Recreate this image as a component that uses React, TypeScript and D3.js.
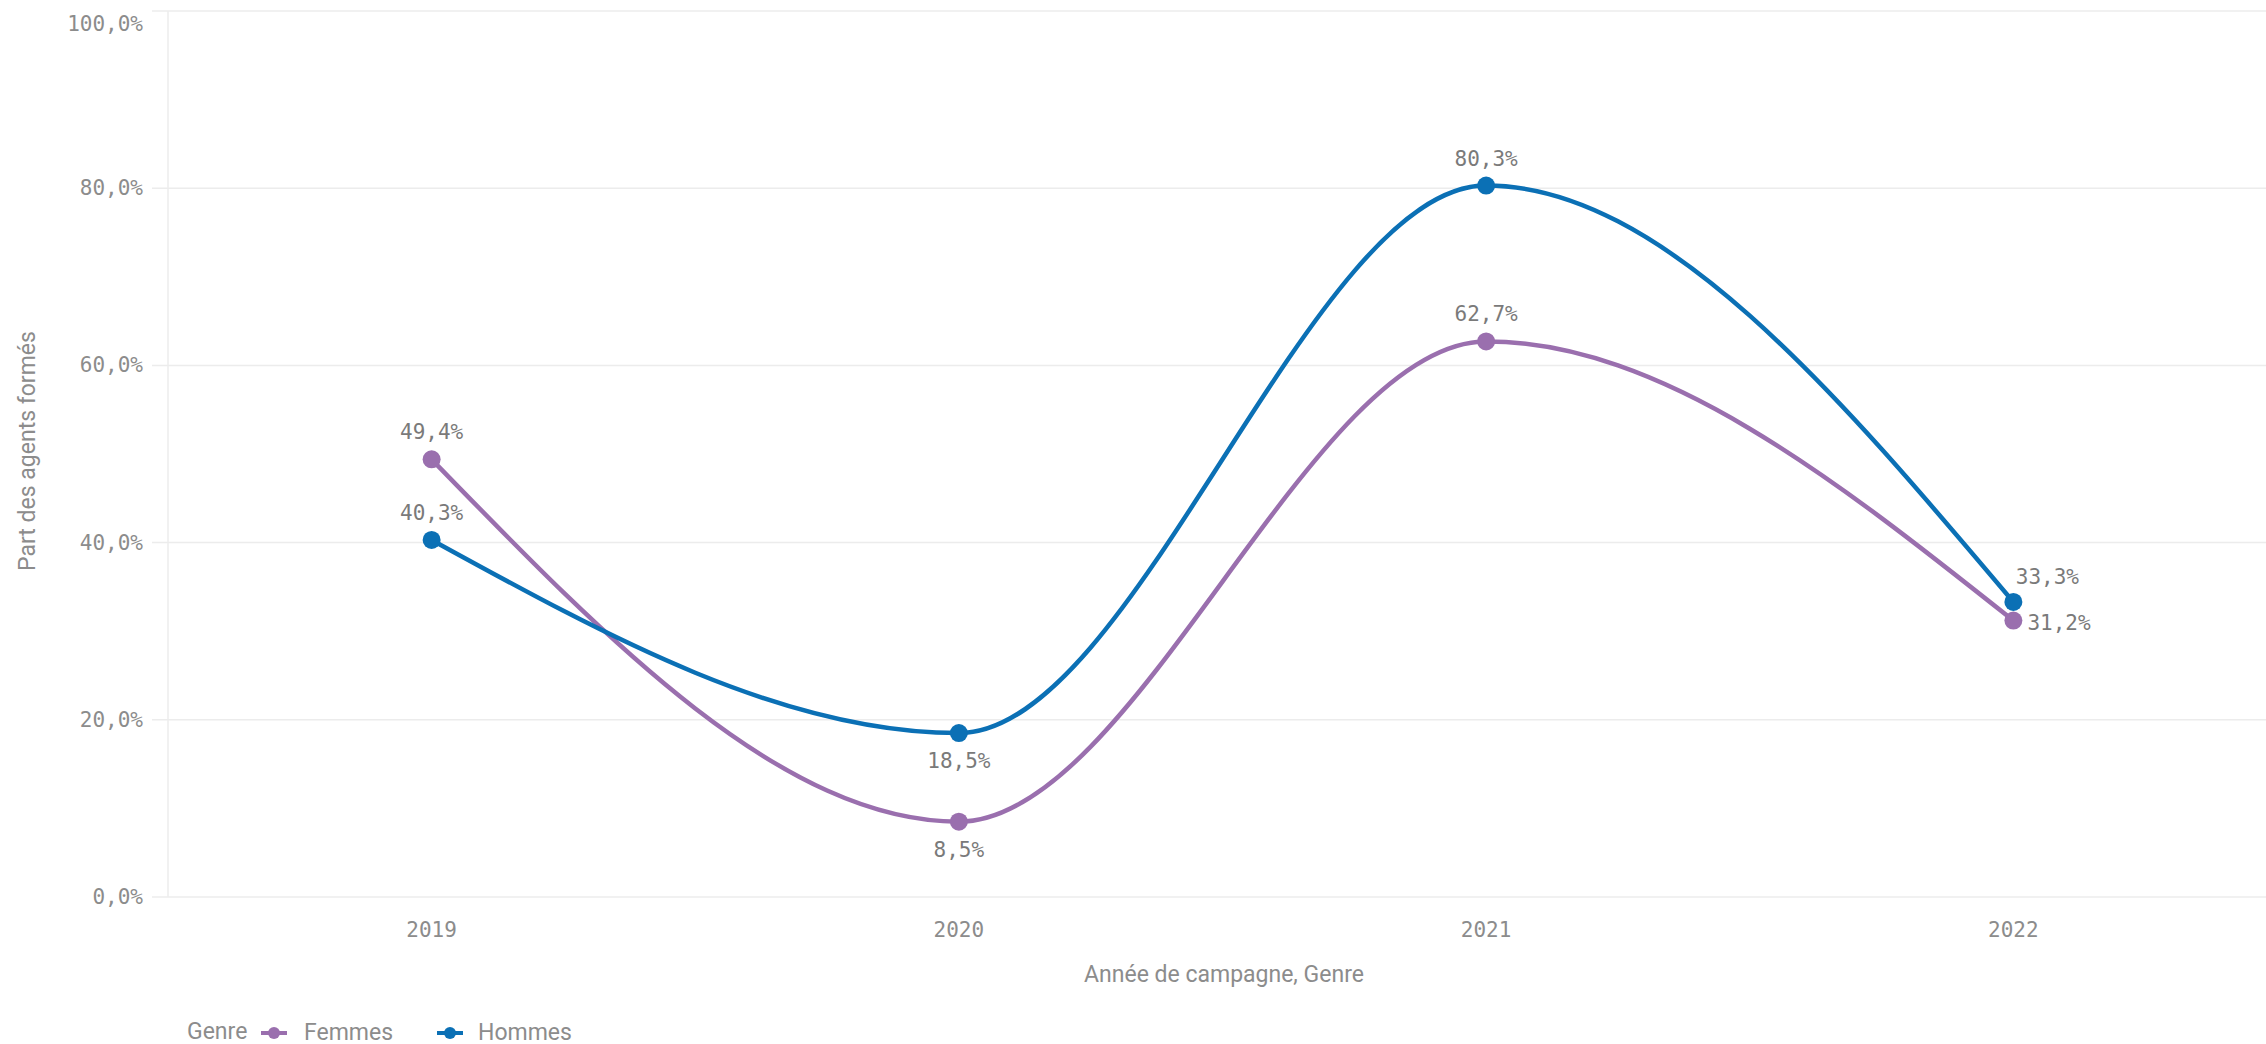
import React from "react";
import * as d3 from "d3";

const years = ["2019", "2020", "2021", "2022"];
const seriesNames = ["Femmes", "Hommes"];
const femmes = [0.494, 0.085, 0.627, 0.312];
const hommes = [0.403, 0.185, 0.803, 0.333];
const yTicks = [0, 0.2, 0.4, 0.6, 0.8, 1.0];
const femmesLabelPos = ["above", "below", "above", "right"];
const hommesLabelPos = ["above", "below", "above", "aboveRight"];

const colors = { Femmes: "#9a6fae", Hommes: "#0b70b5" };
const W = 2266;
const H = 1044;

const locale = d3.formatLocale({ decimal: ",", thousands: " ", grouping: [3], currency: ["", "€"] });
const fmt = locale.format(".1%");

export default function App() {
  const x = d3.scaleBand<string>().domain(years).range([168, 2277]).padding(0);
  const cx = (d: string) => (x(d) as number) + x.bandwidth() / 2;
  const y = d3.scaleLinear().domain([0, 1]).range([897, 11]);
  const line = d3
    .line<number>()
    .x((_, i) => cx(years[i]))
    .y((v) => y(v))
    .curve(d3.curveMonotoneX);

  const series = [
    { name: "Femmes", values: femmes, pos: femmesLabelPos },
    { name: "Hommes", values: hommes, pos: hommesLabelPos },
  ];

  const monoFont = "'DejaVu Sans Mono', monospace";
  const sansFont = "Roboto, 'Open Sans', sans-serif";

  const labelXY = (px: number, py: number, pos: string) => {
    if (pos === "above") return { x: px, y: py - 27, anchor: "middle" };
    if (pos === "below") return { x: px, y: py + 28, anchor: "middle" };
    if (pos === "right") return { x: px + 14, y: py + 2, anchor: "start" };
    return { x: px + 34, y: py - 25, anchor: "middle" };
  };

  const legendItems = [
    { name: seriesNames[0], mx: 274, tx: 304 },
    { name: seriesNames[1], mx: 450, tx: 478 },
  ];

  return (
    <svg width={W} height={H} style={{ position: "absolute", left: 0, top: 0, background: "#fff" }}>
      {yTicks.map((t) => (
        <g key={t}>
          <line x1={152} x2={W} y1={y(t)} y2={y(t)} stroke="#ececec" strokeWidth={1.5} />
          <text
            x={143}
            y={Math.max(y(t), 24)}
            textAnchor="end"
            dominantBaseline="central"
            fontFamily={monoFont}
            fontSize={21}
            fill="#8c8c8c"
          >
            {fmt(t)}
          </text>
        </g>
      ))}
      <line x1={168} x2={168} y1={y(1)} y2={y(0)} stroke="#ececec" strokeWidth={1.5} />
      {years.map((yr) => (
        <text
          key={yr}
          x={cx(yr)}
          y={930}
          textAnchor="middle"
          dominantBaseline="central"
          fontFamily={monoFont}
          fontSize={21}
          fill="#8c8c8c"
        >
          {yr}
        </text>
      ))}
      <text
        x={1224}
        y={974}
        textAnchor="middle"
        dominantBaseline="central"
        fontFamily={sansFont}
        fontSize={23}
        fill="#8c8c8c"
      >
        Année de campagne, Genre
      </text>
      <text
        transform={`translate(27,${451}) rotate(-90)`}
        textAnchor="middle"
        dominantBaseline="central"
        fontFamily={sansFont}
        fontSize={23}
        fill="#8c8c8c"
      >
        Part des agents formés
      </text>
      {series.map((s) => (
        <g key={s.name}>
          <path d={line(s.values) || ""} fill="none" stroke={(colors as any)[s.name]} strokeWidth={4.5} />
          {s.values.map((v, i) => (
            <circle key={i} cx={cx(years[i])} cy={y(v)} r={9} fill={(colors as any)[s.name]} />
          ))}
        </g>
      ))}
      {series.map((s) =>
        s.values.map((v, i) => {
          const p = labelXY(cx(years[i]), y(v), s.pos[i]);
          return (
            <text
              key={s.name + i}
              x={p.x}
              y={p.y}
              textAnchor={p.anchor as any}
              dominantBaseline="central"
              fontFamily={monoFont}
              fontSize={21}
              fill="#7a7a7a"
            >
              {fmt(v)}
            </text>
          );
        })
      )}
      <g fontFamily={sansFont} fontSize={23} fill="#8c8c8c">
        <text x={187} y={1031} dominantBaseline="central">Genre</text>
        {legendItems.map((it) => (
          <g key={it.name}>
            <line x1={it.mx - 13} x2={it.mx + 13} y1={1033} y2={1033} stroke={(colors as any)[it.name]} strokeWidth={4} />
            <circle cx={it.mx} cy={1033} r={6} fill={(colors as any)[it.name]} />
            <text x={it.tx} y={1032} dominantBaseline="central">{it.name}</text>
          </g>
        ))}
      </g>
    </svg>
  );
}
